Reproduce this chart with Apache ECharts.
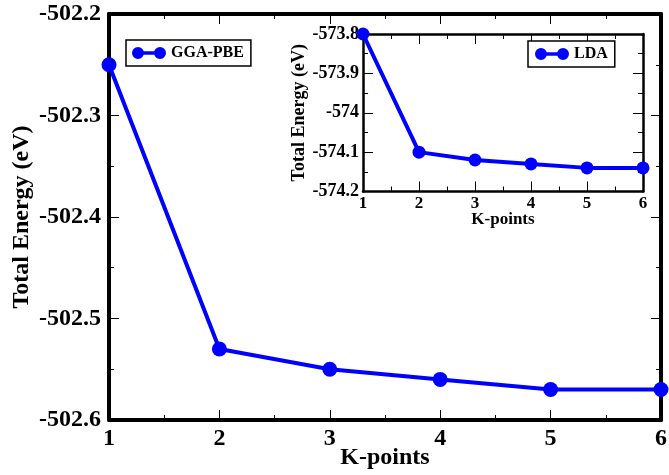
<!DOCTYPE html>
<html>
<head>
<meta charset="utf-8">
<script src="https://cdn.jsdelivr.net/npm/echarts@6/dist/echarts.min.js"></script>
<style>
  html, body { margin: 0; padding: 0; background: #fff; }
  #chart { width: 669px; height: 475px; }
</style>
</head>
<body>
<div id="chart"></div>
<script>
// K-point convergence of the total energy
const kPoints = [1, 2, 3, 4, 5, 6];
const ggaPbe = [-502.25, -502.53, -502.55, -502.56, -502.57, -502.57];
const lda = [-573.80, -574.10, -574.12, -574.13, -574.14, -574.14];

const mainYTicks = { min: -502.6, max: -502.2, interval: 0.1 };
const insetYTicks = { min: -574.2, max: -573.8, interval: 0.1 };

const FONT = '"Liberation Serif", "DejaVu Serif", serif';
const BLUE = '#0000ff';
// legend glyph: two dots joined by a bar
const dotLineIcon = 'path://M0,6A6,6 0 1,1 12,6A6,6 0 1,1 0,6Z M22,6A6,6 0 1,1 34,6A6,6 0 1,1 22,6Z M6,4.3L28,4.3L28,7.7L6,7.7Z';

function xAxisCfg(grid, opts) {
  return {
    type: 'value', gridIndex: grid, min: 1, max: 6, interval: 1,
    position: opts.pos, z: opts.z || 0,
    axisLine: { show: true, onZero: false, lineStyle: { color: '#000', width: opts.lw } },
    axisTick: { show: true, inside: true, length: opts.tl, lineStyle: { color: '#000', width: 1 } },
    minorTick: { show: true, splitNumber: 2, length: opts.tl / 2, lineStyle: { color: '#000', width: 1 } },
    splitLine: { show: false },
    axisLabel: opts.labels ? {
      show: true, color: '#000', fontFamily: FONT, fontWeight: 'bold', fontSize: opts.fs, margin: opts.lm
    } : { show: false },
    name: opts.name || '', nameLocation: 'middle', nameGap: opts.ng || 0, nameMoveOverlap: false,
    nameTextStyle: { color: '#000', fontFamily: FONT, fontWeight: 'bold', fontSize: opts.nfs }
  };
}
function yAxisCfg(grid, ticks, opts) {
  return {
    type: 'value', gridIndex: grid, min: ticks.min, max: ticks.max, interval: ticks.interval,
    position: opts.pos, z: opts.z || 0,
    axisLine: { show: true, onZero: false, lineStyle: { color: '#000', width: opts.lw } },
    axisTick: { show: true, inside: true, length: opts.tl, lineStyle: { color: '#000', width: 1 } },
    minorTick: { show: true, splitNumber: 2, length: opts.tl / 2, lineStyle: { color: '#000', width: 1 } },
    splitLine: { show: false },
    axisLabel: opts.labels ? {
      show: true, color: '#000', fontFamily: FONT, fontWeight: 'bold', fontSize: opts.fs, margin: opts.lm,
      formatter: v => String(parseFloat(v.toFixed(2)))
    } : { show: false },
    name: opts.name || '', nameLocation: 'middle', nameGap: opts.ng || 0, nameMoveOverlap: false,
    nameTextStyle: { color: '#000', fontFamily: FONT, fontWeight: 'bold', fontSize: opts.nfs }
  };
}

const legendBase = {
  orient: 'horizontal', icon: dotLineIcon, itemWidth: 34, itemHeight: 12, itemGap: 6,
  itemStyle: { color: BLUE, borderWidth: 0 }, lineStyle: { width: 0 },
  borderColor: '#000', borderWidth: 1.5, backgroundColor: '#fff',
  textStyle: { color: '#000', fontFamily: FONT, fontWeight: 'bold', fontSize: 16 }
};

const chart = echarts.init(document.getElementById('chart'), null, { renderer: 'canvas' });
chart.setOption({
  animation: false,
  backgroundColor: '#fff',
  grid: [
    { left: 109, top: 14, right: 8, bottom: 55, show: false, z: 1, containLabel: false, outerBoundsMode: 'none' },
    { left: 363, top: 34, right: 26, bottom: 283.5, show: true, backgroundColor: '#fff', borderWidth: 0, z: 5,
      containLabel: false, outerBoundsMode: 'none' }
  ],
  legend: [
    Object.assign({}, legendBase, { data: ['GGA-PBE'], left: 126, top: 40, z: 10, padding: [5, 7, 5, 6] }),
    Object.assign({}, legendBase, { data: ['LDA'], left: 528, top: 41, z: 10, padding: [5, 7, 5, 7] })
  ],
  xAxis: [
    xAxisCfg(0, { pos: 'bottom', lw: 4, tl: 10, labels: true, fs: 24, lm: 7, name: 'K-points', ng: 26, nfs: 24 }),
    xAxisCfg(0, { pos: 'top', lw: 4, tl: 10, labels: false }),
    xAxisCfg(1, { pos: 'bottom', lw: 2.5, tl: 10, labels: true, fs: 17, lm: 4, name: 'K-points', ng: 20, nfs: 17, z: 6 }),
    xAxisCfg(1, { pos: 'top', lw: 2.5, tl: 10, labels: false, z: 6 })
  ],
  yAxis: [
    yAxisCfg(0, mainYTicks, { pos: 'left', lw: 4, tl: 10, labels: true, fs: 24, lm: 8, name: 'Total Energy (eV)', ng: 75, nfs: 24 }),
    yAxisCfg(0, mainYTicks, { pos: 'right', lw: 4, tl: 10, labels: false }),
    yAxisCfg(1, insetYTicks, { pos: 'left', lw: 2.5, tl: 10, labels: true, fs: 18, lm: 4, name: 'Total Energy (eV)', ng: 55, nfs: 18, z: 6 }),
    yAxisCfg(1, insetYTicks, { pos: 'right', lw: 2.5, tl: 10, labels: false, z: 6 })
  ],
  series: [
    {
      name: 'GGA-PBE', type: 'line', xAxisIndex: 0, yAxisIndex: 0, z: 3,
      data: kPoints.map((k, i) => [k, ggaPbe[i]]),
      symbol: 'circle', symbolSize: 15, color: BLUE,
      lineStyle: { color: BLUE, width: 4 }, itemStyle: { color: BLUE },
      clip: false
    },
    {
      name: 'LDA', type: 'line', xAxisIndex: 2, yAxisIndex: 2, z: 8,
      data: kPoints.map((k, i) => [k, lda[i]]),
      symbol: 'circle', symbolSize: 13, color: BLUE,
      lineStyle: { color: BLUE, width: 4 }, itemStyle: { color: BLUE },
      clip: false
    }
  ]
});
</script>
</body>
</html>
